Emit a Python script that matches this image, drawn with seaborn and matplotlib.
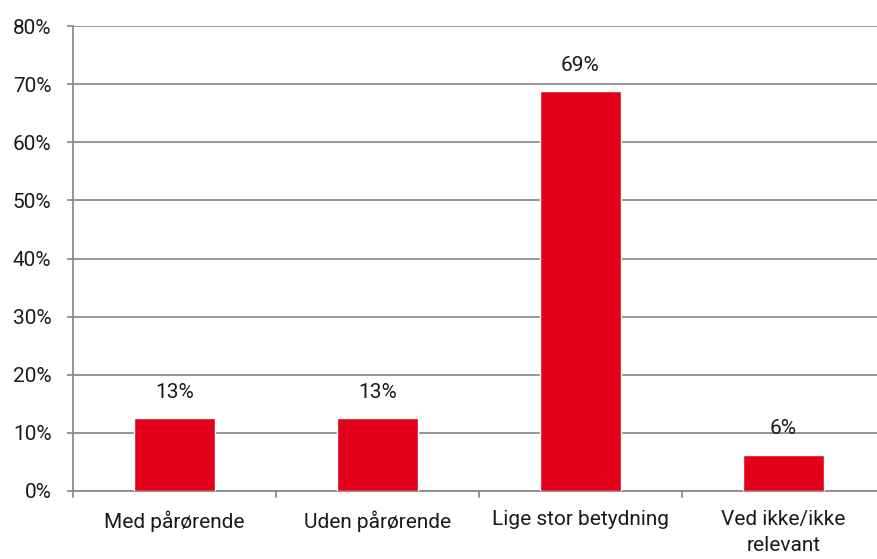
import matplotlib
matplotlib.use("Agg")
import matplotlib.pyplot as plt
import seaborn as sns
import pandas as pd

categories = ["Med pårørende", "Uden pårørende", "Lige stor betydning", "Ved ikke/ikke\nrelevant"]
values = [12.5, 12.5, 68.8, 6.2]
labels = ["13%", "13%", "69%", "6%"]
yticks = [0, 10, 20, 30, 40, 50, 60, 70, 80]

sns.set_theme(style="white")
plt.rcParams['font.family'] = ['Roboto', 'DejaVu Sans']

FS = 15
W = 'normal'
TXT = "#1a1a1a"
df = pd.DataFrame({"cat": categories, "val": values})
fig = plt.figure(figsize=(8.77, 5.59), dpi=100)
ax = fig.add_axes([73/877, 68/559, 812/877, 465/559])
sns.barplot(data=df, x="cat", y="val", color="#e2001a", width=0.4, ax=ax, saturation=1, zorder=3)
grid_c = "#8c8c8c"
ax.set_ylim(0, 80)
ax.set_xlim(-0.5, 3.5)
ax.set_yticks(yticks)
ax.set_yticklabels([f"{t}%" for t in yticks], fontsize=FS, color=TXT, fontweight=W)
for t in yticks:
    ax.axhline(t, color=grid_c, lw=1.3, zorder=1)
ax.set_xticks([0, 1, 2, 3])
ax.set_xticklabels(categories, fontsize=FS, color=TXT, fontweight=W, linespacing=1.45)
ax.tick_params(axis="x", length=0, pad=14)
ax.tick_params(axis="y", length=4.5, color=grid_c, width=1.3, pad=11, left=True)
for b in [-0.5, 0.5, 1.5, 2.5]:
    ax.plot([b, b], [0, -0.012], transform=ax.get_xaxis_transform(), color=grid_c, lw=1.3, clip_on=False)
for s in ["top", "right"]:
    ax.spines[s].set_visible(False)
for s in ["left", "bottom"]:
    ax.spines[s].set_color(grid_c)
    ax.spines[s].set_linewidth(1.3)
ax.set_xlabel("")
ax.set_ylabel("")
for i, (v, l) in enumerate(zip(values, labels)):
    ax.annotate(l, (i, v), xytext=(0, 26), textcoords="offset pixels", ha="center", va="center",
                fontsize=FS, color=TXT, fontweight=W)
fig.savefig("out.png", dpi=100)
